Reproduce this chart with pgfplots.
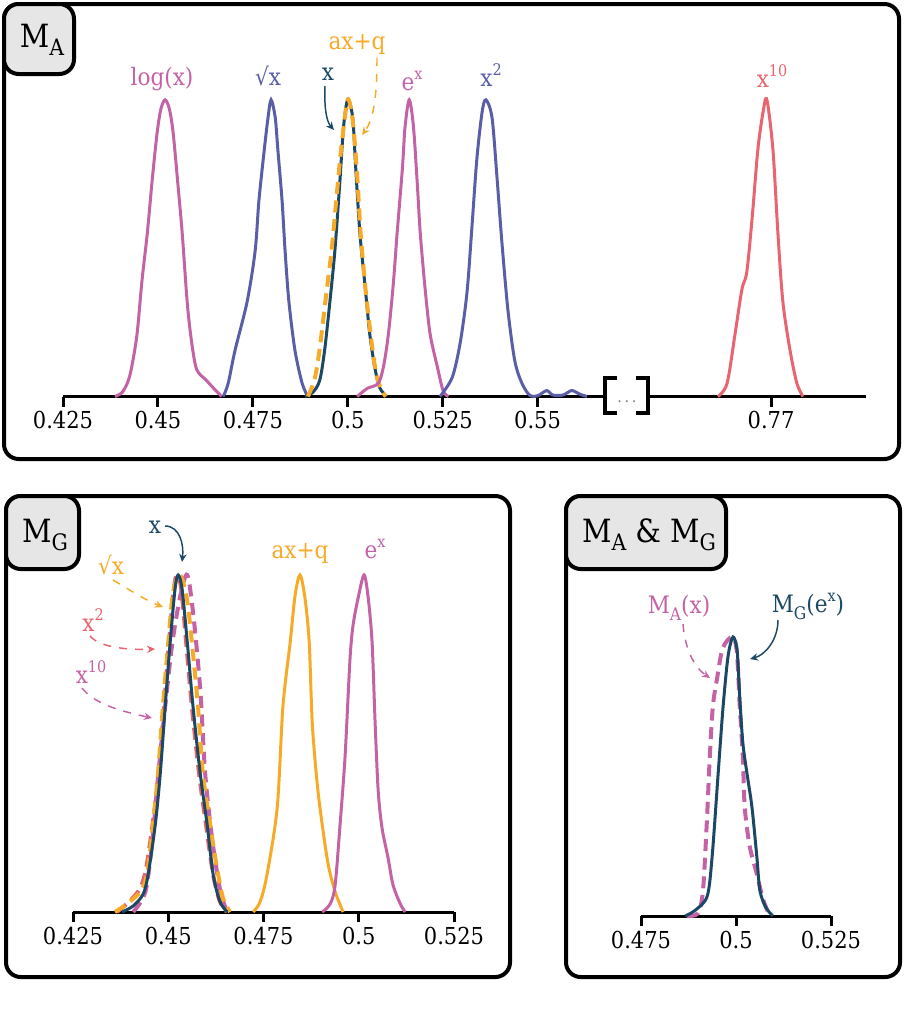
\documentclass[border=0pt]{standalone}
\usepackage{fontspec}
\setmainfont{DejaVu Serif Condensed}
\usepackage{pgfplots}
\pgfplotsset{compat=1.18}
\usetikzlibrary{arrows.meta}
\definecolor{cpink}{RGB}{196,98,166}
\definecolor{cblue}{RGB}{90,94,166}
\definecolor{cteal}{RGB}{27,73,101}
\definecolor{corange}{RGB}{246,170,40}
\definecolor{ccoral}{RGB}{232,100,110}
\definecolor{ctab}{RGB}{230,230,230}
\newcommand{\lab}{\fontsize{18}{18}\selectfont}
\newcommand{\tabf}{\fontsize{24}{24}\selectfont}
\newcommand{\tsub}[1]{\raisebox{-0.28em}{\fontsize{17}{17}\selectfont #1}}
\newcommand{\lsub}[1]{\raisebox{-0.3em}{\fontsize{13}{13}\selectfont #1}}
\newcommand{\sups}[1]{\raisebox{0.45em}{\fontsize{12}{12}\selectfont #1}}
\pgfplotsset{dens/.style={scale only axis, clip=false, ymin=0, ymax=1,
  axis x line=bottom, axis y line=none,
  axis line style={-, line width=2.25pt, black},
  tick align=outside, major tick length=7.5pt,
  xtick style={line width=2.25pt, black},
  xticklabel style={font=\fontsize{17.5}{17.5}\selectfont, text=black},
  anchor=south west}}
\tikzset{solidc/.style={line width=2.25pt, smooth},
  dashc/.style={line width=3pt, smooth, dash pattern=on 9pt off 5pt},
  arr/.style={line width=1.1pt, -{Stealth[length=6pt, width=5.5pt]}},
  darr/.style={arr, dash pattern=on 6pt off 6pt}}
\begin{document}
\begin{tikzpicture}
\begin{scope}[x=0.75pt, y=-0.75pt]
\path[use as bounding box] (0,0) rectangle (904,1010);
\draw[line width=3pt, rounded corners=11pt] (4,4) rectangle (899,459);
\draw[line width=3pt, rounded corners=11pt] (6,496) rectangle (510,977);
\draw[line width=3pt, rounded corners=11pt] (566,496) rectangle (900,977);
\end{scope}
% ---------------- Panel M_A ----------------
\begin{axis}[dens, at={(47.25pt,-297.375pt)}, width=602.25pt, height=222.5pt,
  xmin=0.425, xmax=0.6365,
  xtick={0.425,0.45,0.475,0.5,0.525,0.55,0.6115},
  xticklabels={0.425,0.45,0.475,0.5,0.525,0.55,0.77}]
\addplot[cpink, solidc] coordinates {(0.4387,0) (0.4406,0.014) (0.4421,0.05) (0.4431,0.10) (0.4445,0.21) (0.4458,0.39) (0.4472,0.55) (0.4485,0.73) (0.4498,0.89) (0.4508,0.97) (0.4519,1) (0.4530,0.97) (0.4540,0.89) (0.4553,0.71) (0.4564,0.55) (0.4577,0.32) (0.4587,0.20) (0.4598,0.11) (0.4607,0.08) (0.4628,0.054) (0.4645,0.03) (0.4668,0)};
\addplot[cblue, solidc] coordinates {(0.4672,0) (0.4685,0.044) (0.4703,0.155) (0.4735,0.32) (0.4756,0.49) (0.4766,0.66) (0.4780,0.83) (0.4790,0.94) (0.4798,1) (0.4809,0.94) (0.4816,0.83) (0.4827,0.66) (0.4835,0.49) (0.4845,0.32) (0.4861,0.155) (0.4880,0.044) (0.4895,0)};
\addplot[cteal, solidc] coordinates {(0.4887,0) (0.4908,0.014) (0.4926,0.054) (0.4939,0.155) (0.4953,0.32) (0.4966,0.49) (0.4979,0.72) (0.4989,0.91) (0.5000,1) (0.5013,0.94) (0.5021,0.77) (0.5032,0.55) (0.5045,0.38) (0.5058,0.21) (0.5071,0.10) (0.5084,0.03) (0.5103,0)};
\addplot[corange, dashc] coordinates {(0.4895,0) (0.4913,0.06) (0.4926,0.16) (0.4942,0.33) (0.4958,0.5) (0.4971,0.68) (0.4984,0.85) (0.5000,1) (0.5013,0.93) (0.5024,0.76) (0.5034,0.55) (0.5047,0.36) (0.5063,0.18) (0.5076,0.07) (0.5090,0.02) (0.5100,0)};
\addplot[cpink, solidc] coordinates {(0.5025,0) (0.5051,0.027) (0.5080,0.044) (0.5094,0.10) (0.5107,0.21) (0.5120,0.38) (0.5130,0.55) (0.5144,0.77) (0.5151,0.91) (0.5162,1) (0.5173,0.91) (0.5183,0.72) (0.5191,0.55) (0.5204,0.36) (0.5217,0.21) (0.5236,0.10) (0.5251,0.02) (0.5265,0)};
\addplot[cblue, solidc] coordinates {(0.5243,0) (0.5275,0.064) (0.5296,0.18) (0.5314,0.35) (0.5327,0.57) (0.5340,0.80) (0.5354,0.96) (0.5364,1) (0.5380,0.94) (0.5393,0.74) (0.5406,0.52) (0.5422,0.29) (0.5440,0.12) (0.5459,0.044) (0.5480,0.003) (0.5501,0.003) (0.5524,0.02) (0.5540,0.005) (0.5567,0.005) (0.5590,0.02) (0.5611,0.008) (0.5630,0)};
\addplot[ccoral, solidc] table[x expr=\thisrow{v}-0.1585, y=d] {
v d
0.7560 0
0.7584 0.044
0.7605 0.21
0.7623 0.36
0.7636 0.42
0.7650 0.60
0.7665 0.83
0.7679 0.96
0.7689 1
0.7705 0.83
0.7718 0.55
0.7731 0.32
0.7750 0.155
0.7768 0.044
0.7784 0
};
\end{axis}
% ---------------- Panel M_G ----------------
\begin{axis}[dens, at={(54.75pt,-684pt)}, width=285.75pt, height=252.75pt,
  xmin=0.425, xmax=0.525,
  xtick={0.425,0.45,0.475,0.5,0.525},
  xticklabels={0.425,0.45,0.475,0.5,0.525}]
\addplot[corange, solidc] coordinates {(0.4723,0) (0.4741,0.03) (0.4759,0.11) (0.4786,0.31) (0.4801,0.61) (0.4820,0.80) (0.4833,0.94) (0.4846,1) (0.4859,0.93) (0.4870,0.80) (0.4878,0.56) (0.4891,0.38) (0.4904,0.26) (0.4920,0.14) (0.4938,0.06) (0.4959,0)};
\addplot[cpink, solidc] coordinates {(0.4904,0) (0.4925,0.024) (0.4938,0.08) (0.4951,0.26) (0.4964,0.46) (0.4977,0.75) (0.4985,0.85) (0.4998,0.93) (0.5014,1) (0.5025,0.93) (0.5035,0.80) (0.5043,0.56) (0.5051,0.36) (0.5061,0.25) (0.5077,0.16) (0.5090,0.08) (0.5109,0.024) (0.5122,0)};
\addplot[cpink, dashc] coordinates {(0.4408,0) (0.4440,0.06) (0.4458,0.21) (0.4474,0.41) (0.4492,0.61) (0.4511,0.80) (0.4532,0.94) (0.4550,1) (0.4566,0.88) (0.4584,0.66) (0.4597,0.41) (0.4616,0.21) (0.4637,0.06) (0.4655,0)};
\addplot[ccoral, dashc] coordinates {(0.4365,0) (0.4397,0.03) (0.4426,0.07) (0.4442,0.13) (0.4460,0.27) (0.4476,0.42) (0.4489,0.61) (0.4502,0.80) (0.4515,0.96) (0.4523,1) (0.4534,0.96) (0.4547,0.80) (0.4562,0.61) (0.4581,0.41) (0.4599,0.26) (0.4618,0.11) (0.4636,0.03) (0.4654,0)};
\addplot[corange, dashc] coordinates {(0.4360,0) (0.4392,0.024) (0.4426,0.06) (0.4444,0.11) (0.4460,0.26) (0.4473,0.41) (0.4486,0.61) (0.4500,0.80) (0.4513,0.95) (0.4531,1) (0.4549,0.93) (0.4562,0.80) (0.4578,0.61) (0.4591,0.41) (0.4610,0.26) (0.4628,0.13) (0.4644,0.04) (0.4662,0)};
\addplot[cteal, solidc] coordinates {(0.4379,0) (0.4408,0.018) (0.4434,0.053) (0.4447,0.11) (0.4466,0.26) (0.4479,0.41) (0.4492,0.61) (0.4505,0.80) (0.4518,0.96) (0.4526,1) (0.4536,0.96) (0.4550,0.80) (0.4565,0.61) (0.4584,0.41) (0.4602,0.26) (0.4618,0.11) (0.4636,0.03) (0.4655,0)};
\end{axis}
% ---------------- Panel M_A & M_G ----------------
\begin{axis}[dens, at={(480.75pt,-687pt)}, width=142.5pt, height=209.25pt,
  xmin=0.475, xmax=0.525,
  xtick={0.475,0.5,0.525},
  xticklabels={0.475,0.5,0.525}]
\addplot[cpink, dashc] coordinates {(0.4871,0) (0.4900,0.01) (0.4913,0.09) (0.4923,0.33) (0.4931,0.57) (0.4939,0.75) (0.4950,0.85) (0.4965,0.96) (0.4990,1) (0.5002,0.95) (0.5010,0.75) (0.5018,0.57) (0.5023,0.39) (0.5036,0.25) (0.5055,0.15) (0.5071,0.06) (0.5089,0)};
\addplot[cteal, solidc] coordinates {(0.4866,0) (0.4892,0.02) (0.4924,0.07) (0.4937,0.21) (0.4953,0.51) (0.4966,0.75) (0.4979,0.93) (0.4992,1) (0.5003,0.95) (0.5010,0.78) (0.5018,0.62) (0.5029,0.51) (0.5042,0.39) (0.5055,0.21) (0.5063,0.09) (0.5079,0.03) (0.5097,0)};
\end{axis}
\begin{scope}[x=0.75pt, y=-0.75pt]
% broken-axis bracket
\fill[white] (607,388) rectangle (646,405);
\draw[line width=3pt] (617,378) -- (605,378) -- (605,413) -- (617,413);
\draw[line width=3pt] (636,378) -- (648,378) -- (648,413) -- (636,413);
\node[text=gray, anchor=base] at (627,402) {\fontsize{12}{12}\selectfont .\,.\,.};
% labels panel 1
\node[cpink, anchor=base] at (162,85) {\lab log(x)};
\node[cblue, anchor=base] at (268,85) {\lab √x};
\node[cteal, anchor=base] at (328,80) {\lab x};
\node[corange, anchor=base] at (357,49) {\lab ax+q};
\node[cpink, anchor=base] at (412,90) {\lab e\sups{x}};
\node[cblue, anchor=base] at (491,86) {\lab x\sups{2}};
\node[ccoral, anchor=base] at (772,87) {\lab x\sups{10}};
\draw[cteal, arr] (325,86) .. controls (324,110) and (327,122) .. (334,130);
\draw[corange, darr] (377,58) .. controls (377,100) and (373,120) .. (362,135);
\draw[fill=ctab, line width=3pt, rounded corners=11pt] (4,4) rectangle (74,74);
\node[anchor=base] at (42,47) {\tabf M\tsub{A}};
% labels panel 2
\node[cteal, anchor=base] at (155,533) {\lab x};
\node[corange, anchor=base] at (111,574) {\lab √x};
\node[ccoral, anchor=base] at (93,631) {\lab x\sups{2}};
\node[cpink, anchor=base] at (91,683) {\lab x\sups{10}};
\node[corange, anchor=base] at (300,558) {\lab ax+q};
\node[cpink, anchor=base] at (375,558) {\lab e\sups{x}};
\draw[cteal, arr] (165,526) .. controls (180,526) and (184,545) .. (182,562);
\draw[corange, darr] (113,580) .. controls (130,590) and (145,600) .. (163,607);
\draw[ccoral, darr] (90,636) .. controls (100,648) and (130,650) .. (155,649);
\draw[cpink, darr] (82,688) .. controls (95,705) and (125,712) .. (152,718);
\draw[fill=ctab, line width=3pt, rounded corners=11pt] (6,496) rectangle (79,569);
\node[anchor=base] at (45,542) {\tabf M\tsub{G}};
% labels panel 3
\node[cpink, anchor=base] at (679,613) {\lab M\lsub{A}(x)};
\node[cteal, anchor=base] at (808,612) {\lab M\lsub{G}(e\sups{x})};
\draw[cpink, darr] (683,624) .. controls (685,650) and (695,668) .. (710,678);
\draw[cteal, arr] (778,620) .. controls (778,640) and (765,655) .. (750,659);
\draw[fill=ctab, line width=3pt, rounded corners=11pt] (566,496) rectangle (726,569);
\node[anchor=base] at (649,542) {\tabf M\tsub{A} \& M\tsub{G}};
\end{scope}
\end{tikzpicture}
\end{document}
